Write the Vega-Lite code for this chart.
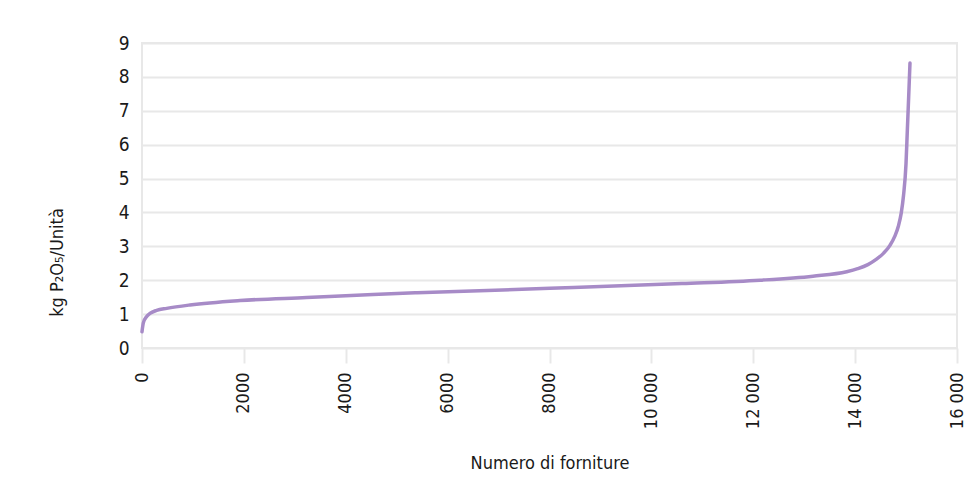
{
  "$schema": "https://vega.github.io/schema/vega-lite/v6.json",
  "autosize": {"type": "none"},
  "width": 815,
  "height": 305,
  "padding": {"left": 142, "top": 43, "right": 16, "bottom": 151},
  "background": "white",
  "config": {
    "font": "DejaVu Sans Condensed, Roboto, sans-serif",
    "view": {"stroke": "#e8e8e8", "strokeWidth": 2},
    "axis": {
      "labelFont": "DejaVu Sans Condensed, Roboto, sans-serif",
      "titleFont": "DejaVu Sans Condensed, Roboto, sans-serif",
      "labelColor": "#1a1a1a",
      "titleColor": "#1a1a1a",
      "titleFontWeight": "normal",
      "gridColor": "#e8e8e8",
      "gridWidth": 2,
      "domain": false
    }
  },
  "data": {
    "values": [
      {"n": 0, "kg": 0.48},
      {"n": 26, "kg": 0.74},
      {"n": 92, "kg": 0.93},
      {"n": 157, "kg": 1.02},
      {"n": 288, "kg": 1.11},
      {"n": 485, "kg": 1.17},
      {"n": 942, "kg": 1.27},
      {"n": 1924, "kg": 1.4},
      {"n": 3233, "kg": 1.49},
      {"n": 4535, "kg": 1.58},
      {"n": 5400, "kg": 1.63},
      {"n": 8010, "kg": 1.76},
      {"n": 10600, "kg": 1.9},
      {"n": 12132, "kg": 2.0},
      {"n": 13173, "kg": 2.12},
      {"n": 13834, "kg": 2.25},
      {"n": 14050, "kg": 2.34},
      {"n": 14250, "kg": 2.46},
      {"n": 14420, "kg": 2.62},
      {"n": 14560, "kg": 2.8},
      {"n": 14684, "kg": 3.03},
      {"n": 14780, "kg": 3.3},
      {"n": 14850, "kg": 3.6},
      {"n": 14905, "kg": 3.98},
      {"n": 14950, "kg": 4.5},
      {"n": 14999, "kg": 5.44},
      {"n": 15025, "kg": 6.42},
      {"n": 15051, "kg": 7.4},
      {"n": 15077, "kg": 8.41}
    ]
  },
  "mark": {"type": "line", "color": "#a78bc7", "strokeWidth": 3.5, "interpolate": "monotone", "strokeCap": "round"},
  "encoding": {
    "x": {
      "field": "n",
      "type": "quantitative",
      "scale": {"domain": [0, 16000], "nice": false},
      "axis": {
        "title": "Numero di forniture",
        "values": [0, 2000, 4000, 6000, 8000, 10000, 12000, 14000, 16000],
        "labelExpr": "datum.value >= 10000 ? replace(format(datum.value, ','), ',', ' ') : format(datum.value, 'd')",
        "labelAngle": 270,
        "labelAlign": "right",
        "labelBaseline": "middle",
        "labelFontSize": 18,
        "labelPadding": 9,
        "ticks": true,
        "tickColor": "#e8e8e8",
        "tickWidth": 2,
        "tickSize": 15,
        "grid": false,
        "titleFontSize": 18,
        "titlePadding": 26
      }
    },
    "y": {
      "field": "kg",
      "type": "quantitative",
      "scale": {"domain": [0, 9], "nice": false},
      "axis": {
        "title": "kg P₂O₅/Unità",
        "values": [0, 1, 2, 3, 4, 5, 6, 7, 8, 9],
        "ticks": false,
        "labelFontSize": 19,
        "labelPadding": 13,
        "titleFontSize": 18,
        "titleAngle": 270,
        "titleX": -85,
        "titleY": 219,
        "titleAlign": "center",
        "titleBaseline": "middle"
      }
    }
  }
}
